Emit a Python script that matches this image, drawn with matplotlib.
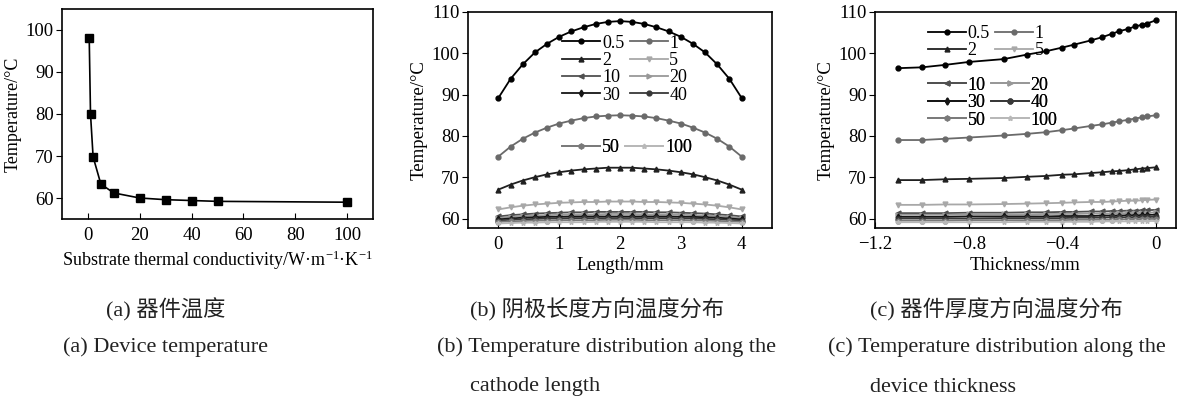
"""Device temperature vs substrate conductivity, plus length/thickness profiles."""

import matplotlib
matplotlib.use("Agg")
import matplotlib.pyplot as plt

plt.rcParams["font.family"] = ["Liberation Serif", "DejaVu Serif"]
plt.rcParams["mathtext.fontset"] = "custom"
plt.rcParams["mathtext.rm"] = "Liberation Serif"
plt.rcParams["mathtext.it"] = "Liberation Serif:italic"
plt.rcParams["axes.linewidth"] = 1.2

# ---- (a) device temperature vs substrate thermal conductivity
COND = [0.5, 1, 2, 5, 10, 20, 30, 40, 50, 100]
DEV_TEMP = [98.2, 80.0, 69.8, 63.3, 61.2, 60.0, 59.6, 59.4, 59.2, 59.0]

# ---- (b) temperature along cathode length, one curve per conductivity
LABELS = ["0.5", "1", "2", "5", "10", "20", "30", "40", "50", "100"]
LENGTH = [0.0, 0.2, 0.4, 0.6, 0.8, 1.0, 1.2, 1.4, 1.6, 1.8, 2.0,
          2.2, 2.4, 2.6, 2.8, 3.0, 3.2, 3.4, 3.6, 3.8, 4.0]
LEN_T = {
    "0.5": [89.2, 93.8, 97.3, 100.2, 102.3, 104.0, 105.3, 106.3, 107.1, 107.6, 107.8,
            107.6, 107.1, 106.3, 105.3, 104.0, 102.3, 100.2, 97.3, 93.8, 89.2],
    "1": [75.0, 77.4, 79.3, 80.8, 82.0, 83.0, 83.7, 84.3, 84.7, 84.9, 85.0,
          84.9, 84.7, 84.3, 83.7, 83.0, 82.0, 80.8, 79.3, 77.4, 75.0],
    "2": [67.0, 68.2, 69.2, 70.0, 70.7, 71.2, 71.6, 71.9, 72.1, 72.3, 72.3,
          72.3, 72.1, 71.9, 71.6, 71.2, 70.7, 70.0, 69.2, 68.2, 67.0],
    "5": [62.2, 62.7, 63.1, 63.4, 63.6, 63.8, 63.9, 64.0, 64.0, 64.1, 64.1,
          64.1, 64.0, 64.0, 63.9, 63.8, 63.6, 63.4, 63.1, 62.7, 62.2],
    "10": [60.5, 60.8, 61.0, 61.2, 61.3, 61.4, 61.5, 61.5, 61.6, 61.6, 61.6,
           61.6, 61.6, 61.5, 61.5, 61.4, 61.3, 61.2, 61.0, 60.8, 60.5],
    "20": [60.1, 60.4, 60.6, 60.7, 60.8, 60.9, 61.0, 61.0, 61.0, 61.1, 61.1,
           61.1, 61.0, 61.0, 61.0, 60.9, 60.8, 60.7, 60.6, 60.4, 60.1],
    "30": [59.8, 60.0, 60.2, 60.3, 60.4, 60.4, 60.5, 60.5, 60.5, 60.5, 60.5,
           60.5, 60.5, 60.5, 60.5, 60.4, 60.4, 60.3, 60.2, 60.0, 59.8],
    "40": [59.5, 59.7, 59.8, 59.9, 60.0, 60.0, 60.1, 60.1, 60.1, 60.1, 60.1,
           60.1, 60.1, 60.1, 60.1, 60.0, 60.0, 59.9, 59.8, 59.7, 59.5],
    "50": [59.2, 59.3, 59.4, 59.5, 59.5, 59.6, 59.6, 59.6, 59.6, 59.7, 59.7,
           59.7, 59.6, 59.6, 59.6, 59.6, 59.5, 59.5, 59.4, 59.3, 59.2],
    "100": [58.8, 58.9, 59.0, 59.0, 59.1, 59.1, 59.1, 59.1, 59.2, 59.2, 59.2,
            59.2, 59.2, 59.1, 59.1, 59.1, 59.1, 59.0, 59.0, 58.9, 58.8],
}

# ---- (c) temperature through device thickness
THICK = [-1.1, -1.0, -0.9, -0.8, -0.65, -0.55, -0.47, -0.4, -0.35,
         -0.28, -0.23, -0.19, -0.16, -0.12, -0.09, -0.06, -0.04, 0.0]
THK_T = {
    "0.5": [96.4, 96.6, 97.2, 97.9, 98.6, 99.7, 100.5, 101.4, 102.1,
            103.1, 103.9, 104.7, 105.3, 105.9, 106.5, 106.9, 107.2, 108.0],
    "1": [79.0, 79.0, 79.3, 79.6, 80.1, 80.5, 80.9, 81.4, 81.8,
          82.4, 82.8, 83.2, 83.5, 83.9, 84.2, 84.5, 84.7, 85.0],
    "2": [69.3, 69.3, 69.5, 69.6, 69.8, 70.1, 70.3, 70.6, 70.7,
          71.0, 71.2, 71.4, 71.5, 71.7, 71.9, 72.1, 72.2, 72.4],
    "5": [63.3, 63.3, 63.4, 63.4, 63.5, 63.6, 63.7, 63.8, 63.9,
          64.0, 64.0, 64.1, 64.2, 64.3, 64.3, 64.4, 64.5, 64.6],
    "10": [61.3, 61.3, 61.3, 61.4, 61.4, 61.5, 61.5, 61.6, 61.6,
           61.7, 61.7, 61.8, 61.8, 61.9, 61.9, 62.0, 62.0, 62.1],
    "20": [60.9, 60.9, 60.9, 61.0, 61.0, 61.0, 61.1, 61.1, 61.1,
           61.2, 61.2, 61.2, 61.3, 61.3, 61.3, 61.4, 61.4, 61.5],
    "30": [60.4, 60.4, 60.4, 60.5, 60.5, 60.5, 60.5, 60.6, 60.6,
           60.6, 60.7, 60.7, 60.7, 60.8, 60.8, 60.8, 60.9, 60.9],
    "40": [60.0, 60.0, 60.0, 60.0, 60.1, 60.1, 60.1, 60.1, 60.2,
           60.2, 60.2, 60.3, 60.3, 60.3, 60.3, 60.4, 60.4, 60.4],
    "50": [59.5, 59.5, 59.5, 59.6, 59.6, 59.6, 59.6, 59.6, 59.7,
           59.7, 59.7, 59.7, 59.8, 59.8, 59.8, 59.8, 59.9, 59.9],
    "100": [59.1, 59.1, 59.1, 59.1, 59.1, 59.2, 59.2, 59.2, 59.2,
            59.2, 59.3, 59.3, 59.3, 59.3, 59.3, 59.4, 59.4, 59.4],
}
THICK_TICKS = [-1.2, -0.8, -0.4, 0]
THICK_TICKLABELS = ["\u22121.2", "\u22120.8", "\u22120.4", "0"]

STYLE = {
    "0.5": ("#000000", "o"),
    "1": ("#6a6a6a", "o"),
    "2": ("#202020", "^"),
    "5": ("#a8a8a8", "v"),
    "10": ("#505050", "<"),
    "20": ("#989898", ">"),
    "30": ("#151515", "d"),
    "40": ("#383838", "o"),
    "50": ("#7a7a7a", "h"),
    "100": ("#b8b8b8", "*"),
}

W, H = 1177, 400
fig = plt.figure(figsize=(W / 100, H / 100), dpi=100)


def box(left, top, right, bottom):
    return [left / W, 1 - bottom / H, (right - left) / W, (bottom - top) / H]


def style_ax(ax):
    ax.tick_params(axis="x", direction="in", length=4, labelsize=13.5, pad=6)
    ax.tick_params(axis="y", direction="out", length=4, labelsize=13.5, pad=2)


def add_legend(ax, keys, handles, x, y):
    # legend reads row by row in the original, matplotlib fills columns first
    order = keys[0::2] + keys[1::2]
    leg = ax.legend([handles[k] for k in order], order, ncol=2, loc="upper left",
                    bbox_to_anchor=(x, y), frameon=False, fontsize=13,
                    handlelength=2.1, handletextpad=0.1, columnspacing=0.3,
                    labelspacing=0.02, borderpad=0, borderaxespad=0)
    ax.add_artist(leg)


# (a)
ax1 = fig.add_axes(box(62, 9, 373, 219))
ax1.plot(COND, DEV_TEMP, color="black", lw=1.2, marker="s", ms=5.5)
ax1.set_xlim(-10, 110)
ax1.set_ylim(55, 105)
ax1.set_xticks([0, 20, 40, 60, 80, 100])
ax1.set_yticks([60, 70, 80, 90, 100])
ax1.set_xlabel("Substrate thermal conductivity/W\u00b7m$^{-1}$\u00b7K$^{-1}$", fontsize=13, labelpad=3)
ax1.set_ylabel("Temperature/\u00b0C", fontsize=13, labelpad=3)
style_ax(ax1)

# (b)
ax2 = fig.add_axes(box(468, 12, 772, 228))
hb = {}
for k in LABELS:
    c, m = STYLE[k]
    (hb[k],) = ax2.plot(LENGTH, LEN_T[k], color=c, marker=m, ms=3.5, lw=1.3)
ax2.set_xlim(-0.5, 4.5)
ax2.set_ylim(57.7, 110)
ax2.set_xticks([0, 1, 2, 3, 4])
ax2.set_yticks([60, 70, 80, 90, 100, 110])
ax2.set_xlabel("Length/mm", fontsize=13.5, labelpad=3)
ax2.set_ylabel("Temperature/\u00b0C", fontsize=13.5, labelpad=3)
style_ax(ax2)
add_legend(ax2, LABELS[:8], hb, 0.31, 0.895)
add_legend(ax2, LABELS[8:], hb, 0.31, 0.41)

# (c)
ax3 = fig.add_axes(box(875, 12, 1176, 228))
hc = {}
for k in LABELS:
    c, m = STYLE[k]
    (hc[k],) = ax3.plot(THICK, THK_T[k], color=c, marker=m, ms=3.5, lw=1.3)
ax3.set_xlim(-1.2, 0.085)
ax3.set_ylim(57.7, 110)
ax3.set_xticks(THICK_TICKS)
ax3.set_xticklabels(THICK_TICKLABELS)
ax3.set_yticks([60, 70, 80, 90, 100, 110])
ax3.set_xlabel("Thickness/mm", fontsize=13.5, labelpad=3)
ax3.set_ylabel("Temperature/\u00b0C", fontsize=13.5, labelpad=3)
style_ax(ax3)
add_legend(ax3, LABELS[:4], hc, 0.175, 0.94)
add_legend(ax3, LABELS[4:], hc, 0.175, 0.70)

# captions
cap_font = ["Liberation Serif", "Noto Sans CJK SC"]
captions = [
    (106, 310, "(a) 器件温度"),
    (470, 310, "(b) 阴极长度方向温度分布"),
    (870, 310, "(c) 器件厚度方向温度分布"),
]
for x, y, s in captions:
    fig.text(x / W, 1 - y / H, s, fontsize=16, family=cap_font,
             ha="left", va="center", color="#222222", fontweight="light")
eng = [
    (63, 347, "(a) Device temperature"),
    (437, 347, "(b) Temperature distribution along the"),
    (470, 387, "cathode length"),
    (828, 347, "(c) Temperature distribution along the"),
    (870, 387, "device thickness"),
]
for x, y, s in eng:
    fig.text(x / W, 1 - y / H, s, fontsize=16, ha="left", va="center",
             color="#222222")

fig.savefig("out.png", dpi=100)
